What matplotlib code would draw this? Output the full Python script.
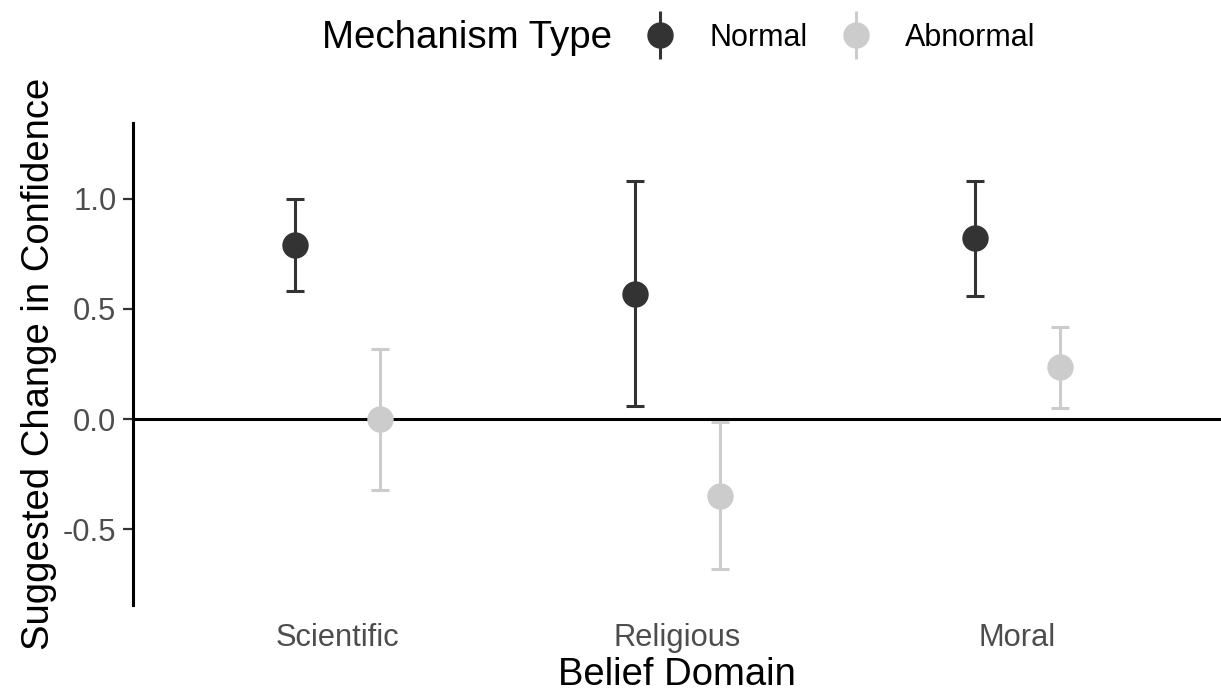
import matplotlib
matplotlib.use("Agg")
import matplotlib.pyplot as plt
from matplotlib.lines import Line2D
import numpy as np

# ---------------------------------------------------------------------------
# Data
# ---------------------------------------------------------------------------
domains = ["Scientific", "Religious", "Moral"]
mechanisms = ["Normal", "Abnormal"]

normal_mean = [0.79, 0.57, 0.82]
normal_low = [0.58, 0.06, 0.56]
normal_high = [1.00, 1.08, 1.08]

abnormal_mean = [0.00, -0.35, 0.235]
abnormal_low = [-0.32, -0.68, 0.05]
abnormal_high = [0.32, -0.015, 0.42]

colors = {"Normal": "#333333", "Abnormal": "#cccccc"}
dodge = 0.125

plt.rcParams["font.family"] = ["Liberation Sans", "DejaVu Sans"]

fig = plt.figure(figsize=(12.21, 6.94), dpi=100)
ax = fig.add_axes([0.109, 0.128, 0.891, 0.695])

x = np.arange(1, len(domains) + 1)
series = {
    "Normal": (normal_mean, normal_low, normal_high, -dodge),
    "Abnormal": (abnormal_mean, abnormal_low, abnormal_high, dodge),
}

ax.axhline(0, color="black", lw=2.2, zorder=1)

for name, (mean, low, high, off) in series.items():
    mean = np.array(mean)
    yerr = [mean - np.array(low), np.array(high) - mean]
    ax.errorbar(x + off, mean, yerr=yerr, fmt="o", color=colors[name],
                ms=18, elinewidth=2.2, capsize=6.2, capthick=2.2, zorder=3)

ax.set_xlim(0.4, 3.6)
ax.set_ylim(-0.845, 1.345)
ax.set_xticks(x)
ax.set_xticklabels(domains)
ax.set_yticks([-0.5, 0.0, 0.5, 1.0])
ax.set_yticklabels(["-0.5", "0.0", "0.5", "1.0"])

for side in ["top", "right", "bottom"]:
    ax.spines[side].set_visible(False)
ax.spines["left"].set_linewidth(2.2)
ax.spines["left"].set_color("black")

ax.tick_params(axis="x", length=0, pad=13, labelsize=22.2, labelcolor="#4d4d4d")
ax.tick_params(axis="y", length=7, width=1.6, color="#333333", pad=5,
               labelsize=22.2, labelcolor="#4d4d4d")

ax.set_xlabel("Belief Domain", fontsize=27.5, labelpad=3)
ax.set_ylabel("Suggested Change in Confidence", fontsize=27.5, labelpad=4)

# legend on top: title text + two entries (point with vertical bar)
fig.text(322 / 1221, 1 - 38 / 694, "Mechanism Type", fontsize=27.7,
         ha="left", va="center")
handles = []
for name in mechanisms:
    bar = Line2D([], [], marker="|", ms=34, mew=2.2, ls="", color=colors[name])
    dot = Line2D([], [], marker="o", ms=18, ls="", color=colors[name])
    handles.append((bar, dot))
fig.legend(handles, mechanisms, loc="center left",
           bbox_to_anchor=(645 / 1221, 1 - 38 / 694), ncol=2, frameon=False,
           fontsize=22, handlelength=1.0, handletextpad=1.1,
           columnspacing=1.1, borderpad=0, borderaxespad=0)

fig.savefig("out.png", dpi=100)
